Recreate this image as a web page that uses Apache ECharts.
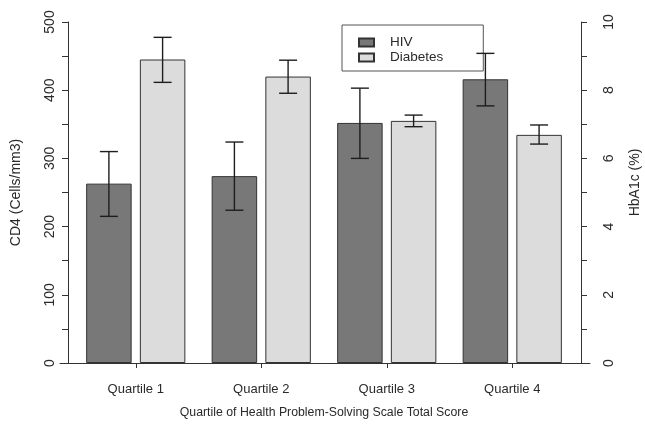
<!DOCTYPE html>
<html>
<head>
<meta charset="utf-8">
<script src="https://cdn.jsdelivr.net/npm/echarts@6/dist/echarts.min.js"></script>
<style>
html,body{margin:0;padding:0;background:#fff;}
#c{width:645px;height:426px;}
</style>
</head>
<body>
<div id="c"></div>
<script>
const categories = ['Quartile 1', 'Quartile 2', 'Quartile 3', 'Quartile 4'];
const hivMean = [263, 274, 352, 416];
const hivLow = [215, 224, 300, 377];
const hivHigh = [310, 324, 403, 454];
const dmMean = [8.9, 8.4, 7.1, 6.69];
const dmLow = [8.23, 7.91, 6.93, 6.42];
const dmHigh = [9.55, 8.88, 7.27, 6.98];
const leftTicks = [0, 100, 200, 300, 400, 500];
const rightTicks = [0, 2, 4, 6, 8, 10];

const BAR_W = 45.5;
const GAP_RATIO = 0.18;
const OFFSET = BAR_W * (1 + GAP_RATIO) / 2;
const CAP = 18;
const FONT = 'Liberation Sans, Arial, sans-serif';
const TXT = '#2a2a2a';

function errRender(sign) {
  return function (params, api) {
    const x = api.value(0);
    const pLo = api.coord([x, api.value(1)]);
    const pHi = api.coord([x, api.value(2)]);
    const cx = pLo[0] + sign * OFFSET;
    const st = { stroke: '#1e1e1e', lineWidth: 1.4 };
    return {
      type: 'group',
      children: [
        { type: 'line', shape: { x1: cx, y1: pHi[1], x2: cx, y2: pLo[1] }, style: st },
        { type: 'line', shape: { x1: cx - CAP / 2, y1: pHi[1], x2: cx + CAP / 2, y2: pHi[1] }, style: st },
        { type: 'line', shape: { x1: cx - CAP / 2, y1: pLo[1], x2: cx + CAP / 2, y2: pLo[1] }, style: st }
      ]
    };
  };
}

const chart = echarts.init(document.getElementById('c'), null, { renderer: 'canvas' });
chart.setOption({
  animation: false,
  backgroundColor: '#fff',
  textStyle: { fontFamily: FONT, color: TXT },
  legend: {
    orient: 'vertical',
    left: 342, top: 25,
    padding: [10, 40, 6, 16],
    itemWidth: 15, itemHeight: 8, itemGap: 0,
    borderColor: '#555', borderWidth: 1,
    backgroundColor: '#fff',
    icon: 'rect',
    textStyle: { fontSize: 13.5, color: TXT, lineHeight: 15, padding: [0, 0, 0, 11], fontFamily: FONT },
    data: ['HIV', 'Diabetes']
  },
  grid: [
    { left: 73, right: 70, top: 22, bottom: 63, containLabel: false, outerBoundsMode: 'none' },
    { left: 60, right: 55, top: 22, bottom: 63, containLabel: false, outerBoundsMode: 'none' }
  ],
  xAxis: [
    {
      type: 'category', gridIndex: 0, data: categories,
      axisLine: { show: false },
      axisTick: { show: true, alignWithLabel: true, length: 5, lineStyle: { color: '#333' } },
      axisLabel: { fontSize: 13, color: TXT, margin: 20, fontFamily: FONT },
      name: 'Quartile of Health Problem-Solving Scale Total Score',
      nameLocation: 'middle', nameGap: 44,
      nameTextStyle: { fontSize: 12.3, color: TXT, fontFamily: FONT }
    },
    {
      type: 'value', gridIndex: 1, min: 0, max: 1,
      axisLine: { show: true, lineStyle: { color: '#333', width: 1 } },
      axisTick: { show: false }, axisLabel: { show: false }, splitLine: { show: false }
    }
  ],
  yAxis: [
    {
      type: 'value', gridIndex: 0, position: 'left', offset: 5,
      min: 0, max: 500, interval: 50,
      axisLine: { show: true, lineStyle: { color: '#333' } },
      axisTick: { show: true, length: 6, lineStyle: { color: '#333' } },
      axisLabel: {
        rotate: 90, fontSize: 14, color: TXT, margin: 11, fontFamily: FONT,
        formatter: v => leftTicks.indexOf(v) >= 0 ? String(v) : ''
      },
      splitLine: { show: false },
      name: 'CD4 (Cells/mm3)', nameLocation: 'middle', nameGap: 45, nameRotate: 90,
      nameTextStyle: { fontSize: 14, color: TXT, fontFamily: FONT }
    },
    {
      type: 'value', gridIndex: 0, position: 'right', offset: 6,
      min: 0, max: 10, interval: 1,
      axisLine: { show: true, lineStyle: { color: '#333' } },
      axisTick: { show: true, length: 6, lineStyle: { color: '#333' } },
      axisLabel: {
        rotate: 90, fontSize: 14, color: TXT, margin: 21, fontFamily: FONT,
        formatter: v => rightTicks.indexOf(v) >= 0 ? String(v) : ''
      },
      splitLine: { show: false },
      name: 'HbA1c (%)', nameLocation: 'middle', nameGap: 47, nameRotate: 90,
      nameTextStyle: { fontSize: 14, color: TXT, fontFamily: FONT, padding: [0, 0, 0, 20] }
    },
    { type: 'value', gridIndex: 1, min: 0, max: 1, show: false }
  ],
  series: [
    {
      name: 'HIV', type: 'bar', xAxisIndex: 0, yAxisIndex: 0,
      data: hivMean, barWidth: BAR_W, barGap: (GAP_RATIO * 100) + '%',
      itemStyle: { color: '#787878', borderColor: '#333', borderWidth: 1 }
    },
    {
      name: 'Diabetes', type: 'bar', xAxisIndex: 0, yAxisIndex: 1,
      data: dmMean, barWidth: BAR_W,
      itemStyle: { color: '#dcdcdc', borderColor: '#333', borderWidth: 1 }
    },
    {
      type: 'custom', xAxisIndex: 0, yAxisIndex: 0, z: 5,
      renderItem: errRender(-1),
      data: categories.map((c, i) => [i, hivLow[i], hivHigh[i]])
    },
    {
      type: 'custom', xAxisIndex: 0, yAxisIndex: 1, z: 5,
      renderItem: errRender(1),
      data: categories.map((c, i) => [i, dmLow[i], dmHigh[i]])
    }
  ]
});
</script>
</body>
</html>
